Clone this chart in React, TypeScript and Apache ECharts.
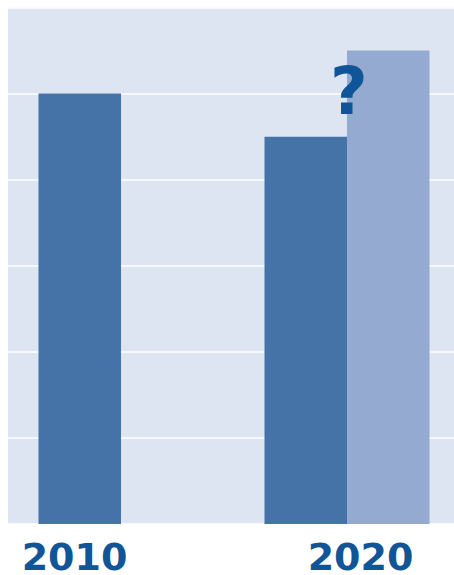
import React, { useEffect, useRef } from "react";
import * as echarts from "echarts";

const categories = ["2010", "2020"];
const actualValues = [5, 4.5];
const projectedValues = [null, 5.5];
const yTicks = { min: 0, max: 6, interval: 1 };

export default function App() {
  const ref = useRef<HTMLDivElement>(null);
  useEffect(() => {
    if (!ref.current) return;
    const chart = echarts.init(ref.current, null, { renderer: "svg" });
    chart.setOption({
      animation: false,
      grid: {
        left: 8,
        top: 7.5,
        bottom: 51,
        right: -6,
        show: true,
        backgroundColor: "#DCE5F1",
        borderWidth: 0,
        outerBoundsMode: "none",
      },
      xAxis: {
        type: "category",
        data: categories,
        axisLine: { show: false },
        axisTick: { show: false },
        axisLabel: {
          margin: 18,
          formatter: (v: string, i: number) => (i === 0 ? `{a|${v}}` : `{b|${v}}`),
          rich: {
            a: {
              fontFamily: "DejaVu Sans",
              fontWeight: "bold",
              fontSize: 38,
              lineHeight: 30,
              color: "#0F5597",
              padding: [0, 93, 0, 0],
            },
            b: {
              fontFamily: "DejaVu Sans",
              fontWeight: "bold",
              fontSize: 38,
              lineHeight: 30,
              color: "#0F5597",
              padding: [0, 0, 0, 27],
            },
          },
        },
      },
      yAxis: {
        type: "value",
        min: yTicks.min,
        max: yTicks.max,
        interval: yTicks.interval,
        axisLabel: { show: false },
        axisLine: { show: false },
        axisTick: { show: false },
        splitLine: { lineStyle: { color: "#FFFFFF", width: 1.5 } },
      },
      series: [
        {
          type: "bar",
          data: actualValues.map((v, i) =>
            i === 1
              ? {
                  value: v,
                  label: {
                    show: true,
                    position: "top",
                    offset: [43, -8],
                    formatter: "?",
                    fontFamily: "DejaVu Sans",
                    fontWeight: "bold",
                    fontSize: 65,
                    color: "#0F5597",
                  },
                }
              : v
          ),
          barWidth: 82.5,
          barGap: "0%",
          itemStyle: { color: "#4573A7" },
          z: 2,
        },
        {
          type: "bar",
          data: projectedValues,
          barWidth: 82.5,
          barGap: "0%",
          itemStyle: { color: "#95AAD0" },
          z: 1,
        },
      ],
    });
    return () => chart.dispose();
  }, []);
  return (
    <div
      ref={ref}
      style={{ position: "absolute", left: 0, top: 0, width: 454, height: 575 }}
    />
  );
}
